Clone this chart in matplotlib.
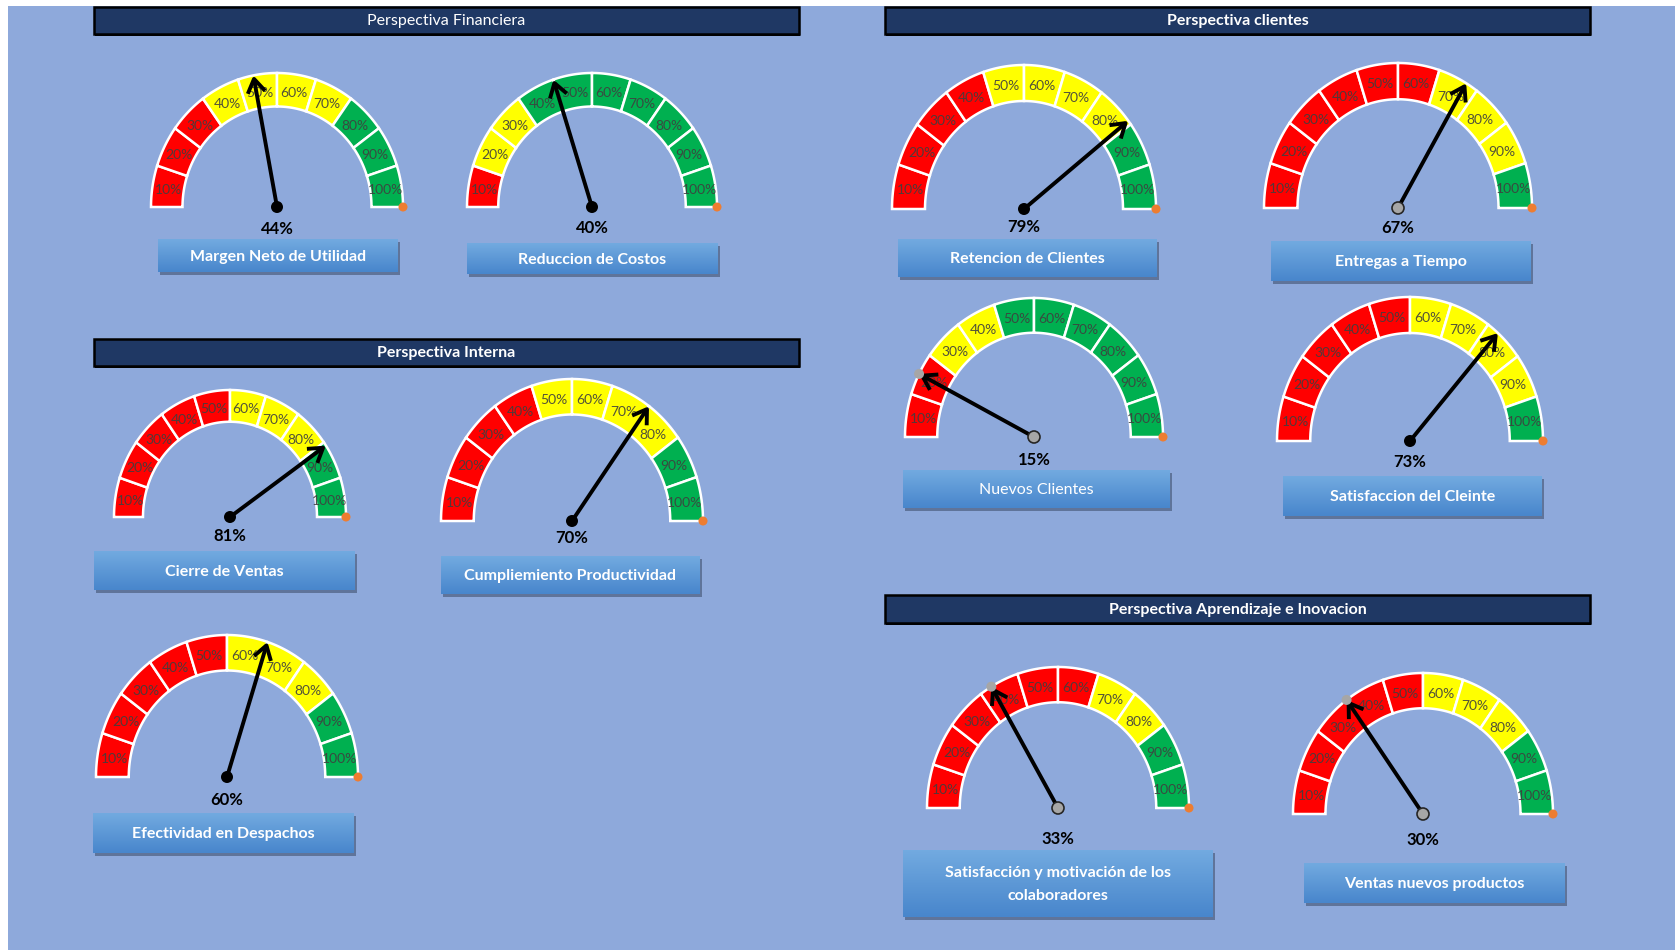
import numpy as np
import matplotlib
matplotlib.use("Agg")
import matplotlib.pyplot as plt
from matplotlib.patches import Polygon, Rectangle, FancyArrowPatch, Ellipse
from matplotlib.colors import LinearSegmentedColormap

# ---------------- data ----------------
headers = ["Perspectiva Financiera", "Perspectiva clientes",
           "Perspectiva Interna", "Perspectiva Aprendizaje e Inovacion"]
header_bold = [False, True, True, True]

titles = ["Margen Neto de Utilidad", "Reduccion de Costos", "Retencion de Clientes",
          "Entregas a Tiempo", "Nuevos Clientes", "Satisfaccion del Cleinte",
          "Cierre de Ventas", "Cumpliemiento Productividad", "Efectividad en Despachos",
          "Satisfacción y motivación de los\ncolaboradores", "Ventas nuevos productos"]
title_bold = [True, True, True, True, False, True, True, True, True, True, True]
values = [44, 40, 79, 67, 15, 73, 81, 70, 60, 33, 30]
bands = ["RRRYYYYGGG", "RYYGGGGGGG", "RRRRYYYYGG", "RRRRRRYYYG", "RRYYGGGGGG",
         "RRRRRYYYYG", "RRRRRYYYGG", "RRRRYYYYGG", "RRRRRYYYGG", "RRRRRRYYGG",
         "RRRRRYYYGG"]
seg_labels = ["10%", "20%", "30%", "40%", "50%", "60%", "70%", "80%", "90%", "100%"]

# ---------------- layout (pixels) ----------------
W, H = 1675, 950
header_boxes = [(94, 7, 799, 34), (885, 7, 1590, 34), (94, 339, 799, 366), (885, 595, 1590, 623)]
# cx, cy, rx, ry
gauge_geom = [(277, 207, 126, 134), (592, 207, 125, 134), (1024, 209, 132, 144),
              (1398, 208, 134, 145), (1034, 437, 129, 139), (1410, 441, 133, 144),
              (230, 517, 116, 127), (572, 521, 131, 142), (227, 777, 131, 142),
              (1058, 808, 131, 141), (1423, 814, 130, 141)]
value_y = [229, 228, 227, 228, 460, 462, 536, 538, 800, 839, 840]
label_boxes = [(158, 239, 398, 272), (467, 243, 718, 274), (898, 239, 1157, 277),
               (1271, 241, 1531, 281), (903, 470, 1170, 508), (1283, 476, 1542, 516),
               (94, 551, 355, 590), (441, 556, 700, 594), (93, 813, 354, 853),
               (903, 850, 1213, 917), (1304, 863, 1565, 903)]
gray_center = [False, False, False, True, True, False, False, False, False, True, True]
gray_tip = [False, False, False, False, True, False, False, False, False, True, True]

COL = {"R": "#FF0000", "Y": "#FFFF00", "G": "#00B050"}
BG = "#8EA9DB"

plt.rcParams['font.family'] = ['Lato', 'DejaVu Sans']

fig = plt.figure(figsize=(W / 100, H / 100), dpi=100)
fig.patch.set_facecolor("white")
ax = fig.add_axes([0, 0, 1, 1])
ax.set_xlim(0, W)
ax.set_ylim(H, 0)
ax.axis("off")

ax.add_patch(Rectangle((8, 6), W - 8, H - 6, facecolor=BG, edgecolor="none", zorder=0))

# headers
for (x0, y0, x1, y1), txt, b in zip(header_boxes, headers, header_bold):
    ax.add_patch(Rectangle((x0 + 1, y0 + 2), x1 - x0, y1 - y0, facecolor="black",
                           edgecolor="none", zorder=1))
    ax.add_patch(Rectangle((x0, y0), x1 - x0, y1 - y0, facecolor="#1F3864",
                           edgecolor="black", lw=1.8, zorder=2))
    ax.text((x0 + x1) / 2, (y0 + y1) / 2 + 1, txt, color="white", fontsize=11.5,
            fontweight="bold" if b else "normal", ha="center", va="center", zorder=3)

grad_cmap = LinearSegmentedColormap.from_list("g", ["#72AAE0", "#4886CC"])
grad = np.linspace(0, 1, 64).reshape(-1, 1)

inner = 0.75
for i in range(len(values)):
    cx, cy, rx, ry = gauge_geom[i]
    # segments
    for k in range(10):
        a0 = np.radians(180 - 18 * k)
        a1 = np.radians(180 - 18 * (k + 1))
        t = np.linspace(a0, a1, 30)
        outer_pts = np.column_stack([cx + rx * np.cos(t), cy - ry * np.sin(t)])
        inner_pts = np.column_stack([cx + inner * rx * np.cos(t[::-1]),
                                     cy - inner * ry * np.sin(t[::-1])])
        ax.add_patch(Polygon(np.vstack([outer_pts, inner_pts]), closed=True,
                             facecolor=COL[bands[i][k]], edgecolor="white", lw=1.8,
                             zorder=4))
        am = np.radians(180 - 18 * k - 9)
        rm = 0.87
        ax.text(cx + rm * rx * np.cos(am), cy - rm * ry * np.sin(am) + 1, seg_labels[k],
                fontsize=10, color="#3F3F3F", alpha=0.9, ha="center", va="center",
                zorder=5)
    # orange end dot
    ax.add_patch(Ellipse((cx + rx, cy), 9, 9, facecolor="#ED7D31", edgecolor="none",
                         zorder=6))
    # needle
    th = np.radians(180 - values[i] * 1.8)
    tx, ty = cx + rx * np.cos(th), cy - ry * np.sin(th)
    arr = FancyArrowPatch((cx, cy), (tx, ty), arrowstyle="->,head_length=0.7,head_width=0.45",
                          mutation_scale=14, lw=2.8, color="black", zorder=7,
                          shrinkA=0, shrinkB=0, capstyle="butt")
    ax.add_patch(arr)
    if gray_tip[i]:
        ax.add_patch(Ellipse((tx, ty), 10, 10, facecolor="#A6A6A6", edgecolor="none",
                             zorder=8))
    if gray_center[i]:
        ax.add_patch(Ellipse((cx, cy), 12, 12, facecolor="#A6A6A6", edgecolor="#262626",
                             lw=1.2, zorder=8))
    else:
        ax.add_patch(Ellipse((cx, cy), 12, 12, facecolor="black", edgecolor="none",
                             zorder=8))
    # value text
    ax.text(cx, value_y[i], f"{values[i]}%", fontsize=12, fontweight="bold",
            color="black", ha="center", va="center", zorder=6)
    # label box
    x0, y0, x1, y1 = label_boxes[i]
    ax.add_patch(Rectangle((x0 + 2, y0 + 3), x1 - x0, y1 - y0, facecolor="#3A4A66",
                           alpha=0.55, edgecolor="none", zorder=4))
    ax.imshow(grad, extent=(x0, x1, y1, y0), cmap=grad_cmap, aspect="auto",
              interpolation="bilinear", zorder=5)
    ax.text((x0 + x1) / 2, (y0 + y1) / 2 + 1, titles[i], fontsize=11.5,
            fontweight="bold" if title_bold[i] else "normal", color="white",
            ha="center", va="center", linespacing=1.9, zorder=6)

ax.set_xlim(0, W)
ax.set_ylim(H, 0)
fig.savefig("out.png", dpi=100, facecolor=fig.get_facecolor())
